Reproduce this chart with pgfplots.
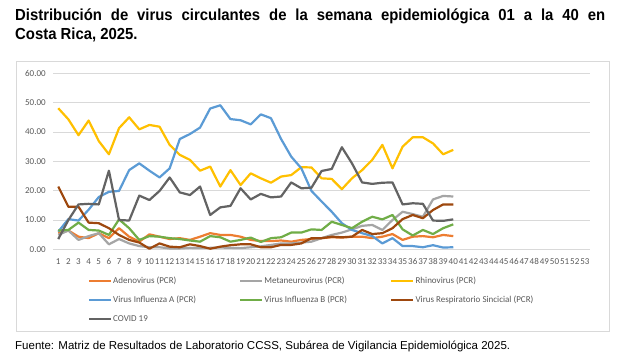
\documentclass[border=0pt]{standalone}
\usepackage{pgfplots}
\pgfplotsset{compat=1.18}
\usepackage{pgfplotstable}
\usepackage{fontspec}
\setmainfont{Carlito}
\newfontfamily\arialfont{Liberation Sans}
\newfontfamily\titlefont[FakeStretch=0.93]{Liberation Sans}
\definecolor{cAdeno}{HTML}{ED7D31}
\definecolor{cMeta}{HTML}{A5A5A5}
\definecolor{cRhino}{HTML}{FFC000}
\definecolor{cFluA}{HTML}{5B9BD5}
\definecolor{cFluB}{HTML}{70AD47}
\definecolor{cVRS}{HTML}{9E480E}
\definecolor{cCovid}{HTML}{636363}
\definecolor{gridgray}{HTML}{D9D9D9}
\definecolor{tickgray}{HTML}{595959}

\pgfplotstableread{
w v
1 5.5
2 6.4
3 4.3
4 3.8
5 5.5
6 3.8
7 7.2
8 4.3
9 2.6
10 5.1
11 4.3
12 3.5
13 3.8
14 3.2
15 4.3
16 5.5
17 4.9
18 4.9
19 4.3
20 3.2
21 2.8
22 2.8
23 3.0
24 2.6
25 3.2
26 3.5
27 3.8
28 4.1
29 4.0
30 4.3
31 4.3
32 3.8
33 4.3
34 5.2
35 3.2
36 4.3
37 4.5
38 4.1
39 4.9
40 4.5
}\tAdeno

\pgfplotstableread{
w v
1 4.9
2 6.4
3 3.2
4 4.5
5 5.5
6 1.7
7 3.5
8 2.0
9 1.1
10 0.7
11 0.7
12 0.3
13 0.3
14 0.5
15 0.4
16 0.5
17 0.6
18 0.5
19 0.4
20 0.7
21 1.0
22 1.5
23 2.0
24 2.0
25 2.3
26 2.6
27 3.8
28 4.9
29 5.7
30 6.8
31 8.0
32 8.3
33 6.6
34 10.0
35 12.8
36 12.0
37 11.1
38 17.0
39 18.2
40 18.0
}\tMeta

\pgfplotstableread{
w v
1 48.1
2 44.3
3 38.9
4 43.9
5 36.9
6 32.4
7 41.3
8 45.0
9 40.9
10 42.4
11 41.8
12 35.6
13 32.2
14 30.5
15 26.8
16 28.2
17 21.4
18 27.0
19 21.9
20 25.9
21 24.2
22 22.7
23 24.8
24 25.3
25 28.0
26 27.9
27 24.2
28 24.0
29 20.5
30 24.2
31 27.0
32 30.5
33 35.6
34 27.6
35 35.0
36 38.2
37 38.2
38 36.1
39 32.4
40 33.9
}\tRhino

\pgfplotstableread{
w v
1 6.0
2 10.3
3 9.8
4 13.5
5 17.8
6 19.6
7 19.9
8 27.0
9 29.3
10 26.8
11 24.5
12 27.6
13 37.6
14 39.3
15 41.5
16 48.0
17 49.1
18 44.4
19 44.0
20 42.6
21 46.0
22 44.7
23 37.6
24 31.6
25 27.6
26 19.9
27 16.3
28 12.8
29 8.9
30 6.6
31 5.5
32 4.5
33 2.0
34 3.8
35 1.1
36 1.1
37 0.7
38 1.4
39 0.6
40 0.7
}\tFluA

\pgfplotstableread{
w v
1 6.4
2 6.6
3 9.1
4 6.6
5 6.4
6 4.9
7 10.2
8 7.2
9 3.2
10 4.5
11 4.3
12 3.8
13 3.5
14 3.0
15 2.6
16 4.5
17 4.1
18 2.6
19 3.2
20 4.0
21 2.5
22 3.8
23 4.1
24 5.7
25 5.7
26 6.8
27 6.6
28 9.4
29 8.3
30 7.2
31 9.4
32 11.1
33 10.2
34 11.7
35 6.8
36 4.7
37 6.6
38 5.2
39 7.2
40 8.5
}\tFluB

\pgfplotstableread{
w v
1 21.4
2 14.5
3 14.5
4 9.1
5 8.9
6 7.2
7 4.9
8 3.2
9 2.3
10 0.2
11 2.0
12 0.9
13 0.7
14 1.7
15 1.1
16 0.2
17 0.9
18 1.4
19 1.7
20 1.7
21 0.7
22 0.7
23 1.5
24 1.5
25 2.0
26 3.8
27 3.8
28 4.3
29 4.1
30 4.3
31 6.6
32 5.2
33 5.5
34 7.2
35 10.3
36 11.7
37 10.6
38 13.4
39 15.3
40 15.3
}\tVRS

\pgfplotstableread{
w v
1 3.5
2 10.0
3 15.3
4 15.5
5 15.3
6 26.8
7 10.0
8 9.8
9 18.3
10 16.8
11 19.9
12 24.5
13 19.4
14 18.5
15 21.4
16 11.7
17 14.3
18 14.8
19 20.8
20 17.0
21 18.9
22 17.7
23 18.0
24 22.8
25 20.8
26 21.0
27 26.7
28 27.4
29 34.8
30 29.3
31 22.8
32 22.3
33 22.7
34 22.8
35 15.3
36 15.7
37 15.5
38 9.8
39 9.7
40 10.2
}\tCovid

\begin{document}
\begin{tikzpicture}
\useasboundingbox (0,0) rectangle (618pt,-362pt);
\fill[white] (0,0) rectangle (618pt,-362pt);
% title
\node[anchor=base west, inner sep=0pt, font=\titlefont\bfseries\fontsize{16}{19}\selectfont] at (15pt,-20.5pt)
  {\makebox[590pt][s]{Distribución de virus circulantes de la semana epidemiológica 01 a la 40 en}};
\node[anchor=base west, inner sep=0pt, font=\titlefont\bfseries\fontsize{16}{19}\selectfont] at (15pt,-39pt)
  {Costa Rica, 2025.};
% frame
\draw[gridgray, line width=0.75pt] (16.5pt,-61.5pt) rectangle (609pt,-331pt);
% footer
\node[anchor=base west, inner sep=0pt, font=\arialfont\fontsize{11.5}{14}\selectfont] at (15pt,-349pt)
  {Fuente: Matriz de Resultados de Laboratorio CCSS, Subárea de Vigilancia Epidemiológica 2025.};

\begin{axis}[
  at={(53.2pt,-249.3pt)}, anchor=south west,
  scale only axis, width=536.8pt, height=176pt,
  xmin=0.5, xmax=53.5, ymin=0, ymax=60,
  xtick={1,...,53}, ytick={0,10,...,60},
  major tick length=0pt,
  axis line style={draw=none},
  ymajorgrids, grid style={gridgray, line width=0.75pt},
  tick label style={font=\fontsize{9}{10}\selectfont, text=tickgray},
  xticklabel style={yshift=-8pt, inner sep=1pt},
  yticklabel style={xshift=-4pt},
  /pgf/number format/assume math mode=true,
  yticklabel={\pgfmathprintnumber[fixed, fixed zerofill, precision=2]{\tick}},
  xticklabel={\pgfmathprintnumber[int detect]{\tick}},
  every axis plot/.append style={line width=2.2pt, line join=round, mark=none},
  legend columns=3,
  legend style={at={(0.0648,-0.15)}, anchor=north west, draw=none, fill=none,
    inner sep=0pt, outer sep=0pt,
    font=\fontsize{9}{10}\selectfont, text=tickgray,
    nodes={inner sep=1pt, text height=7pt, text depth=2pt},
    row sep=8pt, column sep=0pt},
  legend cell align=left,
  legend image code/.code={\draw[#1, line width=2.2pt] (0pt,0pt) -- (22pt,0pt);},
]
\addplot[cAdeno] table[x=w,y=v] {\tAdeno};
\addlegendentry{\makebox[125pt][l]{Adenovirus (PCR)}}
\addplot[cMeta] table[x=w,y=v] {\tMeta};
\addlegendentry{\makebox[125pt][l]{Metaneurovirus (PCR)}}
\addplot[cRhino] table[x=w,y=v] {\tRhino};
\addlegendentry{\makebox[125pt][l]{Rhinovirus (PCR)}}
\addplot[cFluA] table[x=w,y=v] {\tFluA};
\addlegendentry{\makebox[125pt][l]{Virus Influenza A (PCR)}}
\addplot[cFluB] table[x=w,y=v] {\tFluB};
\addlegendentry{\makebox[125pt][l]{Virus Influenza B (PCR)}}
\addplot[cVRS] table[x=w,y=v] {\tVRS};
\addlegendentry{\makebox[125pt][l]{Virus Respiratorio Sincicial (PCR)}}
\addplot[cCovid] table[x=w,y=v] {\tCovid};
\addlegendentry{\makebox[125pt][l]{COVID 19}}
\end{axis}
\end{tikzpicture}
\end{document}
